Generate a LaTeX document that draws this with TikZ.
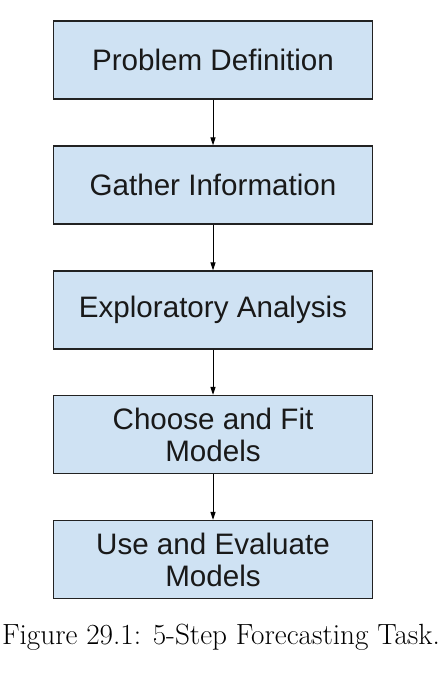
\documentclass[tikz,border=0pt]{standalone}
\usepackage{fontspec}
\setmainfont{Latin Modern Roman}
\newfontfamily\boxfont{Liberation Sans}
\usetikzlibrary{arrows.meta}
\definecolor{boxblue}{HTML}{CFE2F3}
\definecolor{boxline}{HTML}{222222}
\begin{document}
\begin{tikzpicture}[x=1pt,y=1pt,
  stepbox/.style={draw=boxline,fill=boxblue,line width=1.3pt,minimum width=319pt,minimum height=78pt,
    inner sep=0pt,align=center,font=\boxfont\fontsize{29.6}{32}\selectfont,text=black!90},
  flow/.style={draw=black,line width=1pt,-{Triangle[length=8pt,width=5pt]}}]
\useasboundingbox (0,0) rectangle (446,678);
\fill[white] (0,0) rectangle (446,678);
\node[stepbox] (s1) at (213,618) {Problem Definition};
\node[stepbox] (s2) at (213,493) {Gather Information};
\node[stepbox] (s3) at (213,368) {Exploratory Analysis};
\node[stepbox] (s4) at (213,243.5) {Choose and Fit\\Models};
\node[stepbox] (s5) at (213,118.5) {Use and Evaluate\\Models};
\draw[flow] (s1) -- (s2);
\draw[flow] (s2) -- (s3);
\draw[flow] (s3) -- (s4);
\draw[flow] (s4) -- (s5);
\node[font=\fontsize{29.2}{34}\selectfont,anchor=base] (cap) at (221,33) {Figure 29.1: 5-Step Forecasting Task.};
\end{tikzpicture}
\end{document}
